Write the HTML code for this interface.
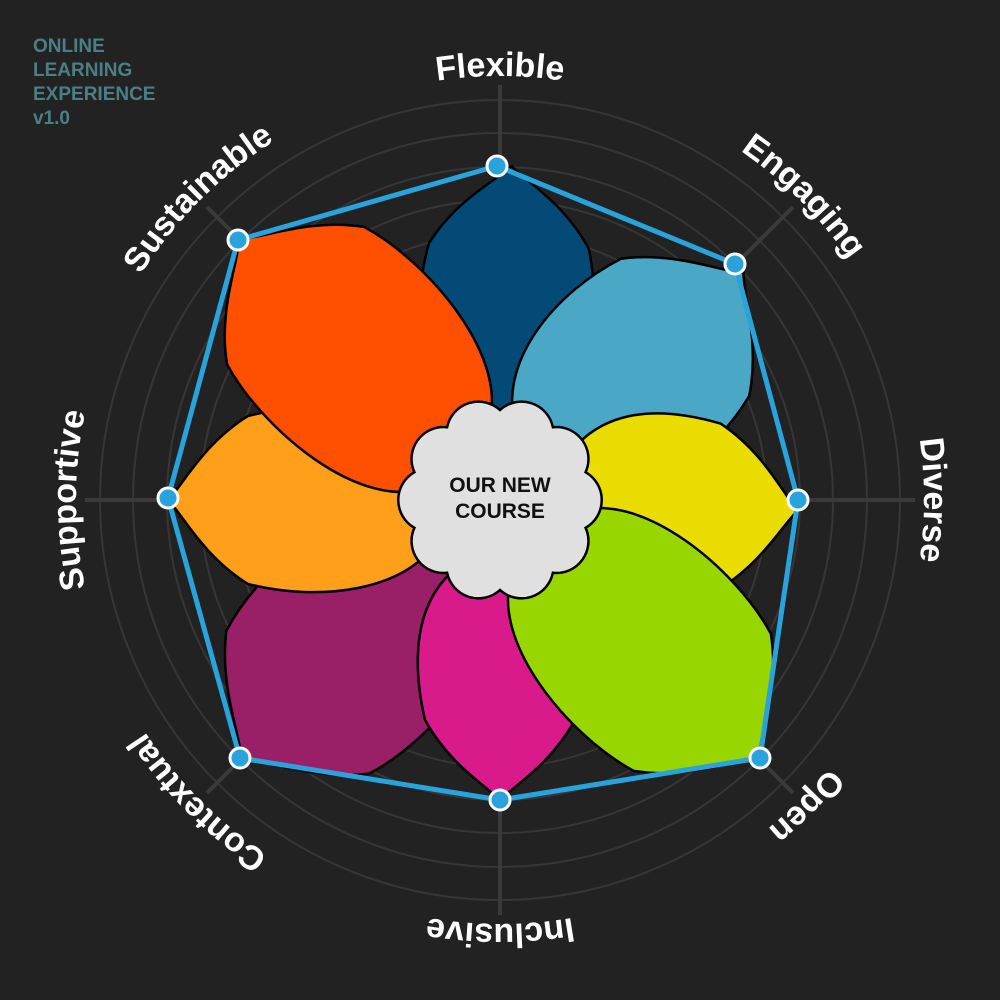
<!DOCTYPE html>
<html><head><meta charset="utf-8"><style>
html,body{margin:0;padding:0;background:#222222;}
svg{display:block;}
</style></head><body>
<svg width="1000" height="1000" viewBox="0 0 1000 1000" xmlns="http://www.w3.org/2000/svg">
<rect width="1000" height="1000" fill="#222222"/>
<g fill="none" stroke="#363636" stroke-width="2">
<circle cx="500" cy="500" r="400"/><circle cx="500" cy="500" r="367"/><circle cx="500" cy="500" r="333"/>
<circle cx="500" cy="500" r="300"/><circle cx="500" cy="500" r="267"/><circle cx="500" cy="500" r="233"/>
<circle cx="500" cy="500" r="200"/><circle cx="500" cy="500" r="167"/><circle cx="500" cy="500" r="133"/>
</g>
<g stroke="#3a3a3a" stroke-width="4">
<line x1="500" y1="85" x2="500" y2="915"/><line x1="85" y1="500" x2="915" y2="500"/>
<line x1="207" y1="207" x2="793" y2="793"/><line x1="793" y1="207" x2="207" y2="793"/>
</g>
<g stroke="#000" stroke-width="2.5" stroke-linejoin="round">
<path transform="translate(500,500) rotate(2)" fill="#034a77" d="M0,-334 C15,-319 54,-299 80,-254 C97,-184 88,-90 34,-60 C12.75,-50 -12.75,-50 -34,-60 C-88,-90 -97,-184 -80,-254 C-54,-299 -15,-319 0,-334Z"/>
<path transform="translate(500,500) rotate(225)" fill="#991f66" d="M0,-366 C15,-351 66,-331 101,-286 C123,-216 112,-90 44,-60 C16.5,-50 -16.5,-50 -44,-60 C-112,-90 -123,-216 -101,-286 C-66,-331 -15,-351 0,-366Z"/>
<path transform="translate(500,500) rotate(270)" fill="#ff9f1a" d="M0,-332 C15,-317 56,-297 84,-252 C102,-182 92,-90 36,-60 C13.5,-50 -13.5,-50 -36,-60 C-92,-90 -102,-182 -84,-252 C-56,-297 -15,-317 0,-332Z"/>
<path transform="translate(500,500) rotate(315)" fill="#ff4f00" d="M0,-369 C15,-354 65,-334 97,-289 C118,-219 108,-90 42,-60 C15.75,-50 -15.75,-50 -42,-60 C-108,-90 -118,-219 -97,-289 C-65,-334 -15,-354 0,-369Z"/>
<path transform="translate(500,500) rotate(47)" fill="#4aa8c6" d="M0,-333 C15,-318 62,-298 94,-253 C114,-183 104,-90 40,-60 C15,-50 -15,-50 -40,-60 C-104,-90 -114,-183 -94,-253 C-62,-298 -15,-318 0,-333Z"/>
<path transform="translate(500,500) rotate(92)" fill="#ebdc00" d="M0,-298 C15,-283 56,-263 84,-218 C102,-148 92,-90 36,-60 C13.5,-50 -13.5,-50 -36,-60 C-92,-90 -102,-148 -84,-218 C-56,-263 -15,-283 0,-298Z"/>
<path transform="translate(500,500) rotate(180)" fill="#d91a8a" d="M0,-300 C15,-285 50,-265 75,-220 C91,-150 82,-90 32,-60 C12,-50 -12,-50 -32,-60 C-82,-90 -91,-150 -75,-220 C-50,-265 -15,-285 0,-300Z"/>
<path transform="translate(500,500) rotate(135)" fill="#97d600" d="M0,-366 C15,-351 65,-331 97,-286 C118,-216 108,-90 42,-60 C15.75,-50 -15.75,-50 -42,-60 C-108,-90 -118,-216 -97,-286 C-65,-331 -15,-351 0,-366Z"/>
</g>
<polygon points="497,166 735,264 798,500 760,758 500,800 240,758 168,498 238,240" fill="none" stroke="#29a3dc" stroke-width="5" stroke-linejoin="round"/>
<g fill="#29a3dc" stroke="#fff" stroke-width="3">
<circle cx="497" cy="166" r="10"/><circle cx="735" cy="264" r="10"/><circle cx="798" cy="500" r="10"/><circle cx="760" cy="758" r="10"/>
<circle cx="500" cy="800" r="10"/><circle cx="240" cy="758" r="10"/><circle cx="168" cy="498" r="10"/><circle cx="238" cy="240" r="10"/>
</g>
<path d="M500,410 A32,32 0 0 1 552.9,427.2 A32,32 0 0 1 585.6,472.2 A32,32 0 0 1 585.6,527.8 A32,32 0 0 1 552.9,572.8 A32,32 0 0 1 500,590 A32,32 0 0 1 447.1,572.8 A32,32 0 0 1 414.4,527.8 A32,32 0 0 1 414.4,472.2 A32,32 0 0 1 447.1,427.2 A32,32 0 0 1 500,410Z" fill="#e0e0e0" stroke="#000" stroke-width="2.5"/>
<g font-family="Liberation Sans, sans-serif" font-weight="bold" font-size="21" fill="#111" text-anchor="middle">
<text x="500" y="492">OUR NEW</text><text x="500" y="518">COURSE</text>
</g>
<defs>
<path id="circ" d="M500,76 A424,424 0 0 1 500,924 A424,424 0 0 1 500,76 A424,424 0 0 1 500,924 A424,424 0 0 1 500,76"/>
</defs>
<g font-family="Liberation Sans, sans-serif" font-weight="bold" font-size="34" fill="#fff" text-anchor="middle">
<text><textPath href="#circ" startOffset="50%">Flexible</textPath></text>
<text><textPath href="#circ" startOffset="56.25%">Engaging</textPath></text>
<text><textPath href="#circ" startOffset="62.5%">Diverse</textPath></text>
<text><textPath href="#circ" startOffset="68.75%">Open</textPath></text>
<text><textPath href="#circ" startOffset="75%">Inclusive</textPath></text>
<text><textPath href="#circ" startOffset="31.25%">Contextual</textPath></text>
<text><textPath href="#circ" startOffset="37.5%">Supportive</textPath></text>
<text><textPath href="#circ" startOffset="43.75%">Sustainable</textPath></text>
</g>
<g font-family="Liberation Sans, sans-serif" font-weight="bold" font-size="19" fill="#4a7f86">
<text x="33" y="52">ONLINE</text><text x="33" y="76">LEARNING</text><text x="33" y="100">EXPERIENCE</text><text x="33" y="124">v1.0</text>
</g>
</svg>
</body></html>
